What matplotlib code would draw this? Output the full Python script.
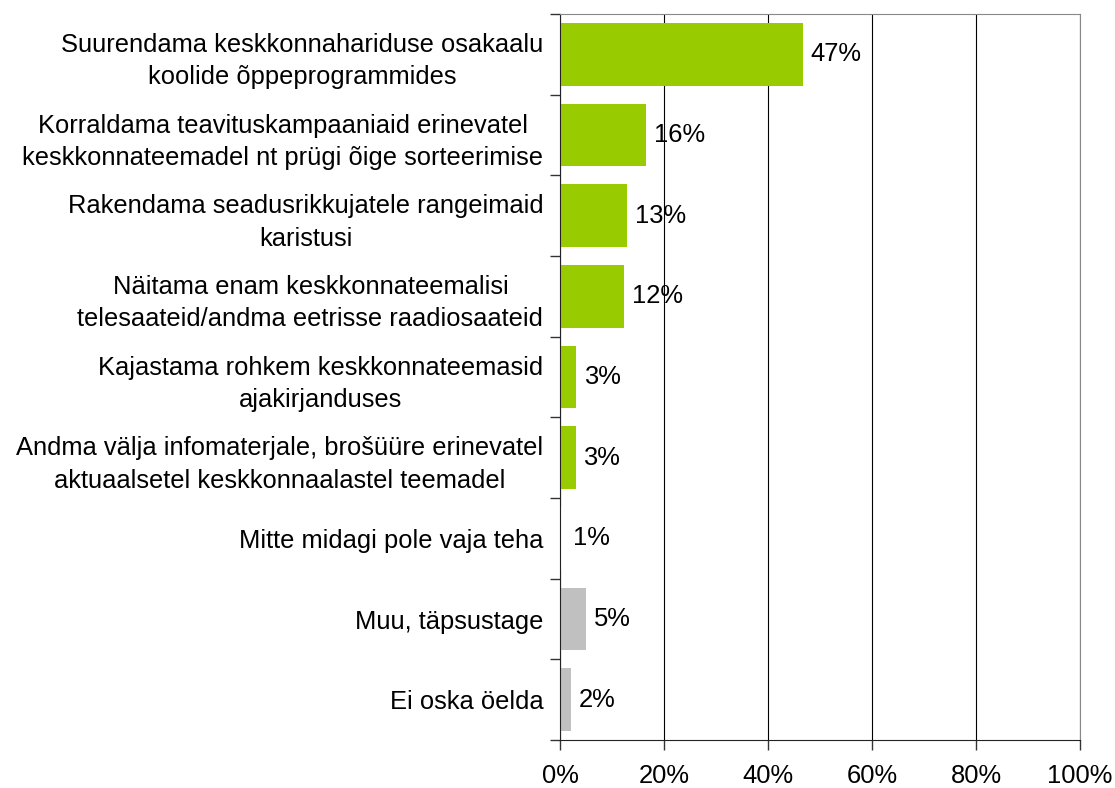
import matplotlib
matplotlib.use('Agg')
import matplotlib.pyplot as plt
import numpy as np

categories = [
    "Suurendama keskkonnahariduse osakaalu\nkoolide õppeprogrammides",
    "Korraldama teavituskampaaniaid erinevatel\nkeskkonnateemadel nt prügi õige sorteerimise",
    "Rakendama seadusrikkujatele rangeimaid\nkaristusi",
    "Näitama enam keskkonnateemalisi\ntelesaateid/andma eetrisse raadiosaateid",
    "Kajastama rohkem keskkonnateemasid\najakirjanduses",
    "Andma välja infomaterjale, brošüüre erinevatel\naktuaalsetel keskkonnaalastel teemadel",
    "Mitte midagi pole vaja teha",
    "Muu, täpsustage",
    "Ei oska öelda",
]
values = [46.7, 16.5, 12.9, 12.3, 3.1, 3.0, 1.0, 5.0, 2.1]
value_labels = ["47%", "16%", "13%", "12%", "3%", "3%", "1%", "5%", "2%"]
colors = ["#99CC00"] * 6 + ["white", "#C0C0C0", "#C0C0C0"]

plt.rcParams['font.family'] = ['Liberation Sans', 'DejaVu Sans']
FS = 18.4

fig = plt.figure(figsize=(11.15, 7.88), dpi=100)
ax = fig.add_axes([560 / 1115, 1 - 740 / 788, 520 / 1115, 726 / 788])

y = np.arange(len(categories))
ax.barh(y, values, height=0.78, color=colors, zorder=3)
ax.set_ylim(len(categories) - 0.5, -0.5)
ax.set_xlim(0, 100)

for yi, v, lab in zip(y, values, value_labels):
    ax.text(v + 1.5, yi, lab, va='center', ha='left', fontsize=FS, zorder=4)

ax.set_yticks(y)
ax.set_yticklabels(categories, fontsize=FS, linespacing=1.45)
for lab in ax.get_yticklabels():
    lab.set_multialignment('center')
ax.tick_params(axis='y', which='major', length=0, pad=12)
ax.set_yticks(np.arange(-0.5, len(categories), 1), minor=True)
ax.tick_params(axis='y', which='minor', length=7, width=1, color='#333333')

ax.set_xticks(np.arange(0, 101, 20))
ax.set_xticklabels([f"{t}%" for t in range(0, 101, 20)], fontsize=FS)
ax.tick_params(axis='x', length=7, width=1, color='#333333', pad=10)

ax.grid(axis='x', color='black', linewidth=0.8, zorder=0)
for side, col in [('left', '#222222'), ('bottom', '#222222'),
                  ('top', '#888888'), ('right', '#888888')]:
    ax.spines[side].set_color(col)
    ax.spines[side].set_zorder(5)

plt.savefig('out.png', dpi=100)
